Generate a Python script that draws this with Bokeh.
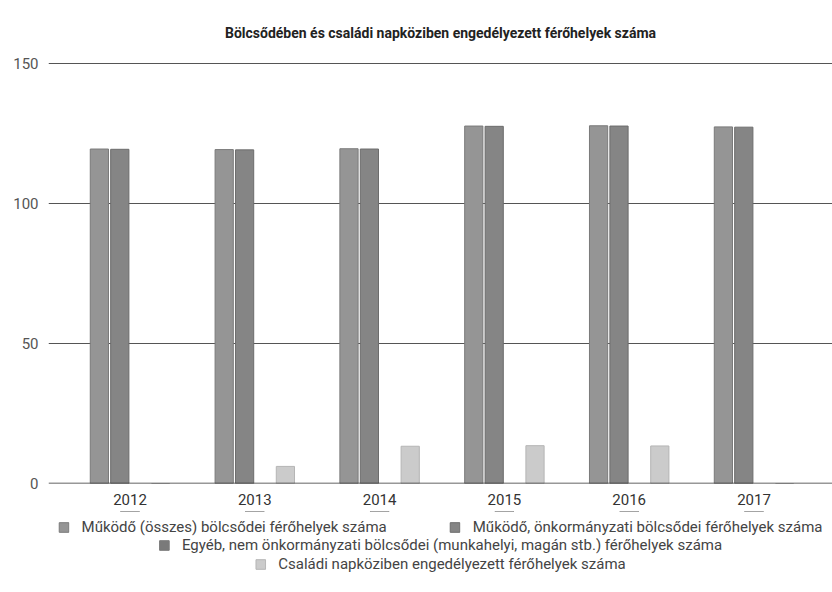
from bokeh.plotting import figure
from bokeh.layouts import column
from bokeh.models import ColumnDataSource, Range1d, FixedTicker, Legend, LegendItem, Span
from bokeh.transform import dodge
from bokeh.embed import file_html
from bokeh.resources import INLINE

years = ["2012", "2013", "2014", "2015", "2016", "2017"]
osszes = [119.4, 119.2, 119.5, 127.6, 127.7, 127.3]
onkormanyzati = [119.3, 119.1, 119.4, 127.5, 127.6, 127.2]
egyeb = [0, 0, 0, 0, 0, 0]
csaladi = [0, 6.1, 13.3, 13.5, 13.4, 0]
series_names = [
    "Működő (összes) bölcsődei férőhelyek száma",
    "Működő, önkormányzati bölcsődei férőhelyek száma",
    "Egyéb, nem önkormányzati bölcsődei (munkahelyi, magán stb.) férőhelyek száma",
    "Családi napköziben engedélyezett férőhelyek száma",
]
y_ticks = [0, 50, 100, 150]
title_text = "Bölcsődében és családi napköziben engedélyezett férőhelyek száma"

pos = list(range(len(years)))
src = ColumnDataSource(dict(x=pos, s1=osszes, s2=onkormanyzati, s3=egyeb, s4=csaladi))
keys = ["s1", "s2", "s3", "s4"]

p = figure(output_backend="svg", toolbar_location=None,
           width=832, height=511,
           x_range=Range1d(-0.653, 5.629), y_range=Range1d(0, 151),
           min_border_left=48, min_border_right=0, min_border_top=60, min_border_bottom=28)
p.outline_line_color = None
p.background_fill_color = "white"
p.border_fill_color = "white"

p.title.text = title_text
p.title.align = "center"
p.title.text_font = "Roboto"
p.title.text_font_style = "bold"
p.title.text_font_size = "14px"
p.title.text_color = "#222222"
p.title.standoff = 40

step = 0.1635
w = 0.146
colors = ["#959595", "#858585", "#7a7a7a", "#cbcbcb"]
lines = ["#7a7a7a", "#6c6c6c", None, "#b5b5b5"]
for i, key in enumerate(keys):
    p.vbar(x=dodge("x", (i - 1.5) * step, range=p.x_range), top=key, width=w,
           bottom=0, source=src, fill_color=colors[i], line_color=lines[i], line_width=1)

p.xgrid.visible = False
p.ygrid.ticker = FixedTicker(ticks=y_ticks)
p.ygrid.grid_line_color = "#555555"
p.ygrid.grid_line_width = 1
p.ygrid.level = "underlay"
base = Span(location=0, dimension="width", line_color="#333333", line_width=1.5)
p.add_layout(base)

p.yaxis.ticker = FixedTicker(ticks=y_ticks)
p.yaxis.axis_line_color = None
p.yaxis.major_tick_line_color = None
p.yaxis.minor_tick_line_color = None
p.yaxis.major_label_standoff = 4
p.yaxis.major_label_text_font = "Roboto"
p.yaxis.major_label_text_font_size = "15px"
p.yaxis.major_label_text_color = "#555555"

p.xaxis.ticker = FixedTicker(ticks=pos)
p.xaxis.major_label_overrides = {i: y for i, y in enumerate(years)}
p.xaxis.axis_line_color = None
p.xaxis.major_tick_line_color = None
p.xaxis.minor_tick_line_color = None
p.xaxis.major_label_standoff = 4
p.xaxis.major_label_text_font = "Roboto"
p.xaxis.major_label_text_font_size = "15px"
p.xaxis.major_label_text_color = "#333333"

# legend strip below the chart: same series, drawn out of view, used only for the legend
lg = figure(output_backend="svg", toolbar_location=None, width=832, height=81,
            x_range=Range1d(-0.653, 5.629), y_range=Range1d(-2, -1),
            x_axis_location=None, y_axis_location=None,
            min_border_left=0, min_border_right=0, min_border_top=0, min_border_bottom=0)
lg.outline_line_color = None
lg.grid.visible = False
lg_rs = []
for i, key in enumerate(keys):
    lg_rs.append(lg.vbar(x="x", top=key, bottom=0, width=w, source=src,
                         fill_color=colors[i],
                         line_color=lines[i] if lines[i] else colors[i]))

rows = [([0, 1], 7), ([2], 25), ([3], 44)]
for idx, mg in rows:
    leg = Legend(items=[LegendItem(label=series_names[k], renderers=[lg_rs[k]]) for k in idx],
                 orientation="horizontal", location="top_center",
                 border_line_color=None, background_fill_alpha=0,
                 padding=0, margin=mg, spacing=62, label_standoff=12,
                 glyph_width=12, glyph_height=12, label_height=18,
                 label_text_font="Roboto", label_text_font_size="15px",
                 label_text_color="#444444")
    lg.add_layout(leg, "center")

open("out.html", "w").write(file_html(column(p, lg, spacing=0), INLINE))
